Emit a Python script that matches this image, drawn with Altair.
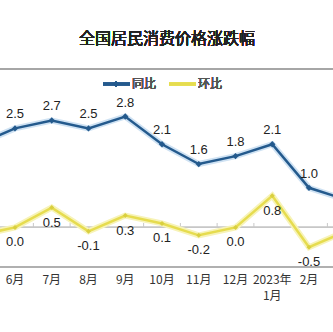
import altair as alt
import pandas as pd

months = ["5月", "6月", "7月", "8月", "9月", "10月", "11月", "12月", "2023年\n1月", "2月", "3月"]
yoy = [2.1, 2.5, 2.7, 2.5, 2.8, 2.1, 1.6, 1.8, 2.1, 1.0, 0.7]
mom = [-0.2, 0.0, 0.5, -0.1, 0.3, 0.1, -0.2, 0.0, 0.8, -0.5, -0.1]

idx = list(range(len(months)))
df = pd.DataFrame({"i": idx, "month": months, "yoy": yoy, "mom": mom})
df["yoy_t"] = [f"{v:.1f}" for v in yoy]
df["mom_t"] = [f"{v:.1f}" for v in mom]
df["z"] = 0.0
ticks = pd.DataFrame({"t": [k + 0.5 for k in idx[:-1]]})

BLUE = "#245a8d"
YELLOW = "#e6dc4f"
FONT = "Liberation Sans"
CJK = "Noto Sans CJK JP"
VIS = "datum.i >= 1 && datum.i <= 9"

xs = alt.Scale(domain=[0.592, 9.653], nice=False, zero=False)
ys = alt.Scale(domain=[-1, 4], nice=False, zero=False)
X = alt.X("i:Q", scale=xs, axis=None)
YB = alt.Y("yoy:Q", scale=ys, axis=None)
YY = alt.Y("mom:Q", scale=ys, axis=None)

base = alt.Chart(df)

glow_b = base.mark_line(color="#cfe2f3", strokeWidth=6, clip=True).encode(X, YB)
line_b = base.mark_line(color=BLUE, strokeWidth=2.5, clip=True).encode(X, YB)
pt_b = base.mark_point(shape="diamond", filled=True, color=BLUE, size=40, opacity=1, clip=True).encode(X, YB)
lab_b = base.mark_text(font=FONT, fontSize=13, color="#222", dy=-14).encode(X, YB, text="yoy_t:N").transform_filter(VIS)

glow_y = base.mark_line(color="#f7f3b8", strokeWidth=6, clip=True).encode(X, YY)
line_y = base.mark_line(color=YELLOW, strokeWidth=2.5, clip=True).encode(X, YY)
pt_y = base.mark_point(shape="diamond", filled=True, color="#d9cf3f", size=25, opacity=1, clip=True).encode(X, YY)
lab_y = base.mark_text(font=FONT, fontSize=13, color="#222", dy=15).encode(X, YY, text="mom_t:N").transform_filter(VIS)

zero = base.mark_rule(color="#c8c8c8", strokeWidth=1).encode(
    x=alt.value(0), x2=alt.value(333), y=alt.Y("z:Q", scale=ys, axis=None))
tk = alt.Chart(ticks).mark_rule(color="#c8c8c8", strokeWidth=1, clip=True).encode(
    x=alt.X("t:Q", scale=xs, axis=None), y=alt.value(154), y2=alt.value(159))
top = base.mark_rule(color="#a6a6a6", strokeWidth=2).encode(
    x=alt.value(0), x2=alt.value(333), y=alt.value(0))
bottom = base.mark_rule(color="#b0b0b0", strokeWidth=2).encode(
    x=alt.value(0), x2=alt.value(333), y=alt.value(198))

xlab = base.mark_text(font=CJK, fontSize=12, color="#333", baseline="top",
                      lineBreak="\n", lineHeight=16).encode(
    X, y=alt.value(206), text="month:N").transform_filter(VIS)

title = base.mark_text(text="全国居民消费价格涨跌幅", font=CJK, fontSize=16, fontWeight="normal", color="#222").encode(
    x=alt.value(167), y=alt.value(-30))

leg1 = base.mark_rule(color=BLUE, strokeWidth=2.5).encode(x=alt.value(103), x2=alt.value(130), y=alt.value(15))
leg1p = base.mark_point(shape="diamond", filled=True, color=BLUE, size=30, opacity=1).encode(x=alt.value(116), y=alt.value(15))
leg1t = base.mark_text(text="同比", font=CJK, fontSize=12, color="#555", align="left").encode(x=alt.value(132), y=alt.value(15))
leg2 = base.mark_rule(color=YELLOW, strokeWidth=2.5).encode(x=alt.value(169), x2=alt.value(196), y=alt.value(15))
leg2t = base.mark_text(text="环比", font=CJK, fontSize=12, color="#555", align="left").encode(x=alt.value(198), y=alt.value(15))

chart = alt.layer(
    top, bottom, zero, tk, glow_b, line_b, pt_b, glow_y, line_y, pt_y, lab_b, lab_y, xlab, title,
    leg1, leg1p, leg1t, leg2, leg2t
).properties(
    width=333, height=198,
    padding={"left": 0, "top": 69, "right": 0, "bottom": 65},
    autosize="none", background="white"
).configure_view(stroke=None)

chart.save("out.html", embed_options={"renderer": "svg", "actions": False})
